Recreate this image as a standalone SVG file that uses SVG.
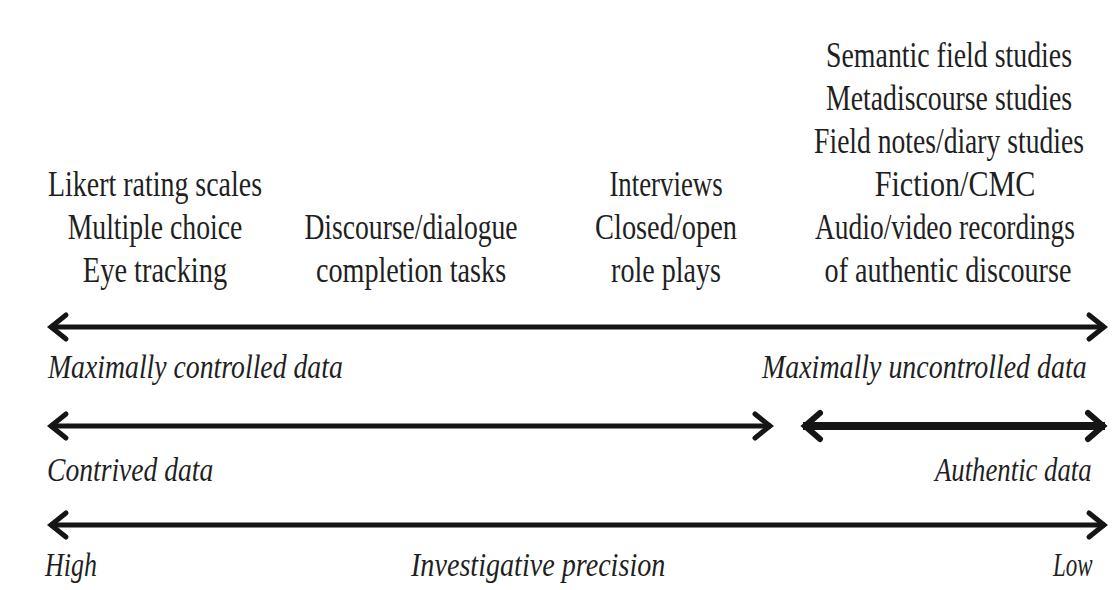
<svg xmlns="http://www.w3.org/2000/svg" width="1112" height="590" viewBox="0 0 1112 590">
  <style>
    .t { font-family: "Liberation Serif", "Times New Roman", serif; font-size: 35px; fill: #1f1f1f; }
    .c { text-anchor: middle; }
    .i { font-style: italic; font-size: 33px; }
    .axis { stroke: #151515; stroke-width: 5; fill: none; }
    .axis-bold { stroke: #151515; stroke-width: 8; fill: none; }
  </style>
  <defs>
    <!-- open chevron arrowheads, sized in user units -->
    <marker id="head" markerUnits="userSpaceOnUse" viewBox="-24 -20 30 40" markerWidth="30" markerHeight="40" refX="0" refY="0" orient="auto-start-reverse" overflow="visible">
      <path d="M-16,-12 L-1,0 L-16,12" fill="none" stroke="#151515" stroke-width="5" stroke-linejoin="miter" stroke-linecap="round"/>
    </marker>
    <marker id="head-bold" markerUnits="userSpaceOnUse" viewBox="-24 -20 30 40" markerWidth="30" markerHeight="40" refX="0" refY="0" orient="auto-start-reverse" overflow="visible">
      <path d="M-17,-13 L-2,0 L-17,13" fill="none" stroke="#151515" stroke-width="6" stroke-linejoin="miter" stroke-linecap="round"/>
    </marker>
  </defs>

  <rect width="1112" height="590" fill="#ffffff"/>

  <!-- method columns: condensed serif lines, centred on each column -->
  <g id="node-controlled-methods" class="t c">
    <text transform="translate(155,196) scale(0.82,1)" textLength="261" lengthAdjust="spacingAndGlyphs">Likert rating scales</text>
    <text transform="translate(155,239) scale(0.82,1)" textLength="213" lengthAdjust="spacingAndGlyphs">Multiple choice</text>
    <text transform="translate(155,282) scale(0.82,1)" textLength="176" lengthAdjust="spacingAndGlyphs">Eye tracking</text>
  </g>
  <g id="node-completion-tasks" class="t c">
    <text transform="translate(411,239) scale(0.82,1)" textLength="260" lengthAdjust="spacingAndGlyphs">Discourse/dialogue</text>
    <text transform="translate(411,282) scale(0.82,1)" textLength="232" lengthAdjust="spacingAndGlyphs">completion tasks</text>
  </g>
  <g id="node-interviews" class="t c">
    <text transform="translate(666,196) scale(0.82,1)" textLength="138" lengthAdjust="spacingAndGlyphs">Interviews</text>
    <text transform="translate(666,239) scale(0.82,1)" textLength="173" lengthAdjust="spacingAndGlyphs">Closed/open</text>
    <text transform="translate(666,282) scale(0.82,1)" textLength="134" lengthAdjust="spacingAndGlyphs">role plays</text>
  </g>
  <g id="node-authentic-methods" class="t c">
    <text transform="translate(949,67) scale(0.82,1)" textLength="300" lengthAdjust="spacingAndGlyphs">Semantic field studies</text>
    <text transform="translate(949,110) scale(0.82,1)" textLength="300" lengthAdjust="spacingAndGlyphs">Metadiscourse studies</text>
    <text transform="translate(949,153) scale(0.82,1)" textLength="329" lengthAdjust="spacingAndGlyphs">Field notes/diary studies</text>
    <text transform="translate(955,196) scale(0.82,1)" textLength="196" lengthAdjust="spacingAndGlyphs">Fiction/CMC</text>
    <text transform="translate(945,239) scale(0.82,1)" textLength="317" lengthAdjust="spacingAndGlyphs">Audio/video recordings</text>
    <text transform="translate(948,282) scale(0.82,1)" textLength="301" lengthAdjust="spacingAndGlyphs">of authentic discourse</text>
  </g>

  <!-- scales -->
  <g id="connectors">
    <line class="axis" x1="50" y1="327" x2="1105" y2="327" marker-start="url(#head)" marker-end="url(#head)"/>
    <line class="axis" x1="50" y1="426" x2="771" y2="426" marker-start="url(#head)" marker-end="url(#head)"/>
    <line class="axis-bold" x1="803" y1="426" x2="1105" y2="426" marker-start="url(#head-bold)" marker-end="url(#head-bold)"/>
    <line class="axis" x1="50" y1="525" x2="1105" y2="525" marker-start="url(#head)" marker-end="url(#head)"/>
  </g>

  <!-- scale end labels -->
  <g id="node-control-labels" class="t i">
    <text transform="translate(48,378) scale(0.88,1)" textLength="335" lengthAdjust="spacingAndGlyphs">Maximally controlled data</text>
    <text transform="translate(762,378) scale(0.88,1)" textLength="369" lengthAdjust="spacingAndGlyphs">Maximally uncontrolled data</text>
  </g>
  <g id="node-authenticity-labels" class="t i">
    <text transform="translate(47,481) scale(0.88,1)" textLength="189" lengthAdjust="spacingAndGlyphs">Contrived data</text>
    <text transform="translate(935,481) scale(0.88,1)" textLength="178" lengthAdjust="spacingAndGlyphs">Authentic data</text>
  </g>
  <g id="node-precision-labels" class="t i">
    <text transform="translate(45,576) scale(0.88,1)" textLength="59" lengthAdjust="spacingAndGlyphs">High</text>
    <text transform="translate(411,576) scale(0.88,1)" textLength="289" lengthAdjust="spacingAndGlyphs">Investigative precision</text>
    <text transform="translate(1053,576) scale(0.88,1)" textLength="45" lengthAdjust="spacingAndGlyphs">Low</text>
  </g>
</svg>
